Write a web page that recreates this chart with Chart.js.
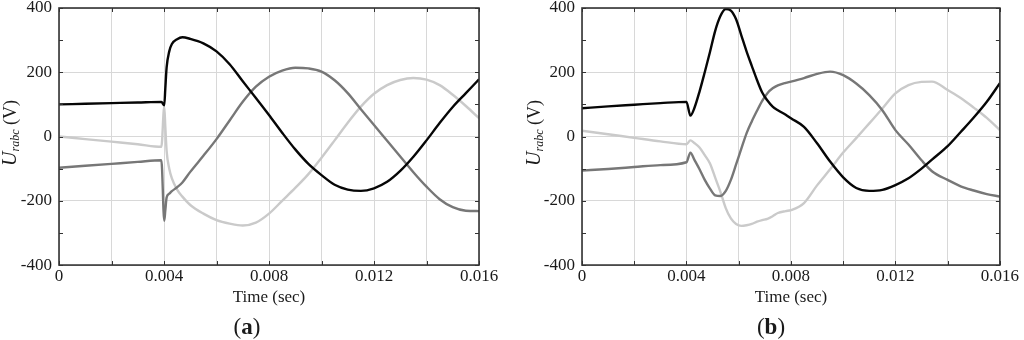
<!DOCTYPE html>
<html>
<head>
<meta charset="utf-8">
<title>Urabc transient</title>
<script src="https://cdn.jsdelivr.net/npm/chart.js@4.4.1/dist/chart.umd.min.js"></script>
<style>
  body { margin: 0; background: #fff; }
  .panel { position: absolute; top: 0; width: 512px; height: 340px; }
  #panel-a { left: 0; }
  #panel-b { left: 512px; }
</style>
</head>
<body>
<div class="panel" id="panel-a"><canvas id="chartA" width="512" height="340"></canvas></div>
<div class="panel" id="panel-b"><canvas id="chartB" width="512" height="340"></canvas></div>
<script>
// Tick labels
const xTickLabels = ['0', '0.004', '0.008', '0.012', '0.016'];
const yTickLabels = ['-400', '-200', '0', '200', '400'];

// Panel (a) - time (sec) and phase voltages (V)
const timeA = [0, 0.001, 0.002, 0.003, 0.0039, 0.00401, 0.00405, 0.0041, 0.0042, 0.0043, 0.0045, 0.0047,
  0.005, 0.0055, 0.006, 0.0065, 0.007, 0.0075, 0.008, 0.0085, 0.009, 0.0095, 0.010, 0.0105, 0.011,
  0.0115, 0.012, 0.0125, 0.013, 0.0135, 0.014, 0.0145, 0.015, 0.0155, 0.016];
const aBlack = [100, 102, 104, 106, 108, 97, 150, 215, 265, 288, 303, 309,
  304, 290, 265, 225, 172, 120, 67, 12, -40, -85, -120, -150, -165,
  -169, -161, -141, -107, -63, -12, 42, 92, 135, 178];
const aDark = [-97, -91, -85, -79, -74, -262, -230, -190, -178, -170, -158, -143,
  -110, -60, -8, 50, 108, 155, 186, 205, 214, 212, 202, 175, 135,
  85, 36, -13, -62, -111, -156, -195, -220, -231, -232];
const aLight = [0, -8, -16, -24, -32, 93, 30, -45, -100, -130, -165, -187,
  -213, -240, -260, -271, -277, -268, -240, -200, -160, -117, -66, -12, 43,
  93, 133, 160, 176, 182, 177, 160, 130, 95, 57];

// Panel (b)
const timeB = [0, 0.001, 0.002, 0.003, 0.004, 0.00415, 0.0043, 0.0045, 0.0047, 0.0049, 0.0051, 0.0053,
  0.0055, 0.0057, 0.0059, 0.0061, 0.0063, 0.0065, 0.0067, 0.0069, 0.0071, 0.0073, 0.0075, 0.0078,
  0.008, 0.0085, 0.009, 0.0095, 0.010, 0.0105, 0.011, 0.0115, 0.012, 0.0125, 0.013, 0.0134,
  0.014, 0.0145, 0.015, 0.0155, 0.016];
const bBlack = [88, 94, 99, 104, 108, 65, 88, 140, 200, 263, 329, 375,
  397, 392, 365, 315, 265, 220, 176, 137, 112, 93, 82, 68,
  57, 30, -21, -78, -127, -160, -169, -166, -151, -130, -100, -72,
  -30, 14, 59, 108, 166];
const bDark = [-106, -101, -95, -89, -80, -50, -72, -102, -135, -162, -183, -185,
  -170, -135, -87, -38, 10, 47, 80, 111, 135, 150, 159, 167,
  171, 182, 195, 202, 191, 165, 129, 82, 20, -25, -74, -108,
  -135, -155, -168, -179, -187];
const bLight = [18, 7, -4, -15, -24, -12, -20, -34, -58, -84, -128, -172,
  -222, -255, -272, -278, -276, -272, -265, -260, -256, -248, -238, -232,
  -229, -207, -152, -102, -50, -5, 41, 87, 134, 160, 170, 171,
  145, 120, 90, 58, 20];

Chart.defaults.font.family = '"Liberation Serif", "Times New Roman", serif';
Chart.defaults.color = '#1a1a1a';

// frame, inward ticks, y title with subscript, panel label
const framePlugin = {
  id: 'frame',
  afterDatasetsDraw(chart) {
    const ctx = chart.ctx;
    const { left, right, top, bottom } = chart.chartArea;
    const xs = chart.scales.x;
    const ys = chart.scales.y;
    ctx.save();
    ctx.strokeStyle = '#333';
    ctx.lineWidth = 1;
    ctx.beginPath();
    for (let v = xs.min; v <= xs.max + 1e-9; v += 0.002) {
      const px = Math.round(xs.getPixelForValue(v)) + 0.5;
      ctx.moveTo(px, bottom); ctx.lineTo(px, bottom - 4);
      ctx.moveTo(px, top); ctx.lineTo(px, top + 4);
    }
    for (let v = ys.min; v <= ys.max; v += 100) {
      const py = Math.round(ys.getPixelForValue(v)) + 0.5;
      ctx.moveTo(left, py); ctx.lineTo(left + 4, py);
      ctx.moveTo(right, py); ctx.lineTo(right - 4, py);
    }
    ctx.stroke();
    ctx.lineWidth = 1.6;
    ctx.strokeRect(left, top, right - left, bottom - top);
    ctx.restore();
  },
  afterDraw(chart, args, opts) {
    const ctx = chart.ctx;
    ctx.save();
    ctx.fillStyle = '#1a1a1a';
    ctx.textBaseline = 'alphabetic';

    // y axis title: U_rabc (V)
    const parts = [
      { text: 'U', font: 'italic 20px "Liberation Serif"', dy: 0 },
      { text: 'rabc', font: 'italic 12px "Liberation Serif"', dy: 3 },
      { text: ' (V)', font: '18px "Liberation Serif"', dy: 0 }
    ];
    let total = 0;
    parts.forEach(p => { ctx.font = p.font; p.w = ctx.measureText(p.text).width; total += p.w; });
    ctx.translate(opts.titleX, opts.titleY);
    ctx.rotate(-Math.PI / 2);
    let x = -total / 2;
    parts.forEach(p => { ctx.font = p.font; ctx.fillText(p.text, x, p.dy); x += p.w; });
    ctx.setTransform(1, 0, 0, 1, 0, 0);

    // panel label: (a) / (b)
    const lab = [
      { text: '(', font: '23px "Liberation Serif"' },
      { text: opts.label, font: 'bold 23px "Liberation Serif"' },
      { text: ')', font: '23px "Liberation Serif"' }
    ];
    let lw = 0;
    lab.forEach(p => { ctx.font = p.font; p.w = ctx.measureText(p.text).width; lw += p.w; });
    let lx = opts.labelX - lw / 2;
    lab.forEach(p => { ctx.font = p.font; ctx.fillText(p.text, lx, 334); lx += p.w; });
    ctx.restore();
  }
};

function makeChart(id, time, black, dark, light, yWidth, rightPad, frameOpts) {
  const pts = arr => time.map((t, i) => ({ x: t, y: arr[i] }));
  const line = (data, color, order) => ({
    data: pts(data),
    borderColor: color,
    borderWidth: 2.4,
    pointRadius: 0,
    fill: false,
    cubicInterpolationMode: 'monotone',
    order: order
  });
  return new Chart(document.getElementById(id), {
    type: 'line',
    data: {
      datasets: [
        line(black, '#060606', 0),
        line(dark, '#777777', 1),
        line(light, '#cacaca', 2)
      ]
    },
    options: {
      responsive: false,
      animation: false,
      layout: { padding: { top: 8, right: rightPad, bottom: 34, left: 0 } },
      plugins: {
        legend: { display: false },
        tooltip: { enabled: false },
        frame: frameOpts
      },
      scales: {
        x: {
          type: 'linear',
          min: 0,
          max: 0.016,
          border: { display: false },
          grid: { color: '#d8d8d8', lineWidth: 1, drawTicks: false },
          ticks: {
            stepSize: 0.002,
            autoSkip: false,
            maxRotation: 0,
            padding: 5,
            font: { size: 17, lineHeight: 0.82 },
            callback: (v, i) => (i % 2 === 0 ? xTickLabels[i / 2] : '')
          },
          title: {
            display: true,
            text: 'Time (sec)',
            padding: 0,
            font: { size: 17, lineHeight: 1 }
          }
        },
        y: {
          min: -400,
          max: 400,
          border: { display: false },
          grid: { color: '#d8d8d8', lineWidth: 1, drawTicks: false },
          ticks: {
            stepSize: 200,
            padding: 7,
            font: { size: 17, lineHeight: 1 },
            callback: (v, i) => yTickLabels[i]
          },
          afterFit: scale => {
            scale.width = yWidth;
            scale.paddingTop = 0;
            scale.paddingBottom = 0;
          }
        }
      }
    },
    plugins: [framePlugin]
  });
}

makeChart('chartA', timeA, aBlack, aDark, aLight, 59, 33,
  { titleX: 16, titleY: 133, label: 'a', labelX: 247 });
makeChart('chartB', timeB, bBlack, bDark, bLight, 70, 23,
  { titleX: 28, titleY: 133, label: 'b', labelX: 259 });
</script>
</body>
</html>
